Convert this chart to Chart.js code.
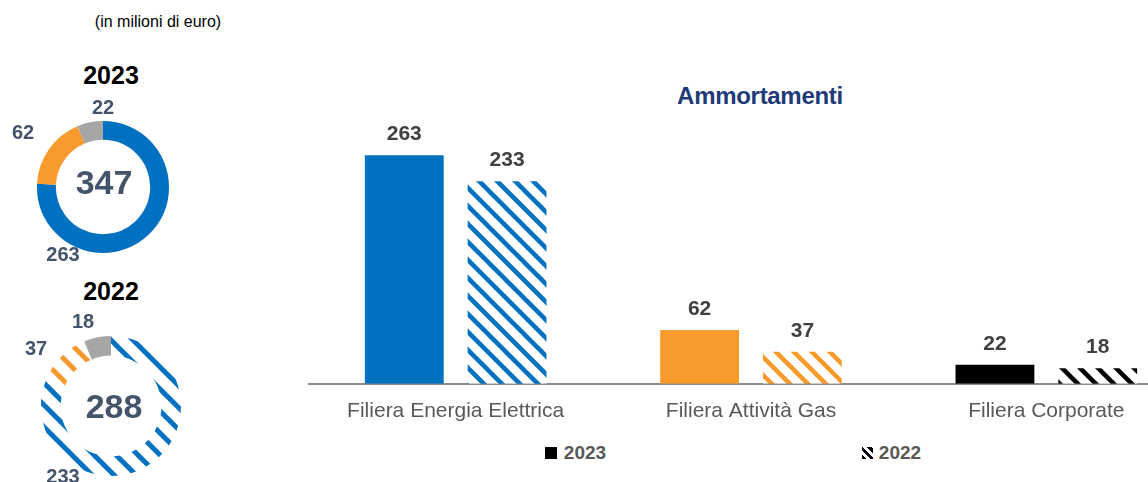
<!DOCTYPE html>
<html>
<head>
<meta charset="utf-8">
<script src="https://cdn.jsdelivr.net/npm/chart.js@4"></script>
<style>
  body { margin: 0; width: 1148px; height: 482px; overflow: hidden; position: relative; background: #fff; font-family: "Liberation Sans", Arial, sans-serif; }
  .abs { position: absolute; }
  .txt { position: absolute; transform: translate(-50%, -50%); white-space: nowrap; }
  .lbl { font-weight: bold; font-size: 20px; color: #44546a; }
  .year { font-weight: bold; font-size: 25px; color: #000; }
  .leg { font-weight: bold; font-size: 19px; color: #595959; }
</style>
</head>
<body>
<div class="txt" style="left:158px; top:22px; font-size:16px; color:#000;">(in milioni di euro)</div>
<div class="txt year" style="left:111px; top:75px;">2023</div>
<div class="txt year" style="left:111px; top:291px;">2022</div>
<div class="txt" style="left:760px; top:96px; font-size:24px; font-weight:bold; color:#1f3a78; letter-spacing:-0.3px;">Ammortamenti</div>

<canvas id="donut23" class="abs" style="left:33px; top:117px;" width="140" height="140"></canvas>
<canvas id="donut22" class="abs" style="left:36px; top:331px;" width="150" height="150"></canvas>
<div id="donutLabels"></div>

<div class="abs" style="left:308px; top:100px; width:886px; height:339px;">
  <canvas id="myChart"></canvas>
</div>

<div class="abs" style="left:545px; top:447px; width:12px; height:12px; background:#000;"></div>
<div class="txt leg" style="left:585px; top:453px;">2023</div>
<div class="abs" style="left:862px; top:447px; width:11px; height:12px; background:repeating-linear-gradient(45deg, #000 0 3px, #fff 3px 6px);"></div>
<div class="txt leg" style="left:900px; top:453px;">2022</div>

<script>
// dati (in milioni di euro)
var categorie = ['Filiera Energia Elettrica', 'Filiera Attività Gas', 'Filiera Corporate'];
var anni = ['2023', '2022'];
var valori2023 = [263, 62, 22];
var valori2022 = [233, 37, 18];

var blu = '#0070c0';
var arancio = '#f99a2c';
var grigio = '#a6a6a6';

function hatch(color, s, lw) {
    var c = document.createElement('canvas');
    c.width = s; c.height = s;
    var x = c.getContext('2d');
    x.fillStyle = '#fff';
    x.fillRect(0, 0, s, s);
    x.strokeStyle = color;
    x.lineWidth = lw;
    for (var k = -2; k <= 2; k++) {
        x.beginPath();
        x.moveTo(k * s - 3, -3);
        x.lineTo(k * s + s + 3, s + 3);
        x.stroke();
    }
    return x.createPattern(c, 'repeat');
}

// etichette sopra le barre
var barLabels = {
    id: 'barLabels',
    afterDatasetsDraw: function(chart) {
        var ctx = chart.ctx;
        ctx.save();
        ctx.font = 'bold 21px "Liberation Sans", Arial, sans-serif';
        ctx.fillStyle = '#404040';
        ctx.textAlign = 'center';
        ctx.textBaseline = 'alphabetic';
        chart.data.datasets.forEach(function(ds, i) {
            chart.getDatasetMeta(i).data.forEach(function(el, j) {
                ctx.fillText(ds.data[j], el.x, el.y - 15);
            });
        });
        ctx.restore();
    }
};

// totale al centro della ciambella
var centerText = {
    id: 'centerText',
    afterDraw: function(chart) {
        var ctx = chart.ctx;
        var tot = chart.data.datasets[0].data.reduce(function(a, b) { return a + b; }, 0);
        var a = chart.chartArea;
        var sh = chart.options.centerShift;
        ctx.save();
        ctx.font = 'bold 34px "Liberation Sans", Arial, sans-serif';
        ctx.fillStyle = '#44546a';
        ctx.textAlign = 'center';
        ctx.textBaseline = 'middle';
        ctx.fillText(tot, (a.left + a.right) / 2 + sh[0], (a.top + a.bottom) / 2 + sh[1]);
        ctx.restore();
    }
};

function donut(id, data, colors, radius, cutout, shift) {
    return new Chart(document.getElementById(id), {
        type: 'doughnut',
        data: {
            labels: categorie,
            datasets: [{
                data: data,
                backgroundColor: colors,
                borderWidth: 0,
                radius: radius,
                cutout: cutout
            }]
        },
        options: {
            responsive: false,
            animation: false,
            centerShift: shift,
            plugins: { legend: { display: false }, tooltip: { enabled: false } }
        },
        plugins: [centerText]
    });
}

donut('donut23', valori2023, [blu, arancio, grigio], 66, 50, [1, -2]);
donut('donut22', valori2022, [hatch(blu, 22, 5), hatch(arancio, 22, 5), grigio], 70, 54, [3, 3]);

// etichette delle ciambelle
var posLabels = [
    { v: valori2023, pts: [[63, 254], [23, 132], [103, 107]] },
    { v: valori2022, pts: [[63, 476], [36, 348], [83, 321]] }
];
var box = document.getElementById('donutLabels');
posLabels.forEach(function(p) {
    p.v.forEach(function(v, i) {
        var d = document.createElement('div');
        d.className = 'txt lbl';
        d.style.left = p.pts[i][0] + 'px';
        d.style.top = p.pts[i][1] + 'px';
        d.textContent = v;
        box.appendChild(d);
    });
});

const ctx = document.getElementById('myChart').getContext('2d');
const myChart = new Chart(ctx, {
    type: 'bar',
    data: {
        labels: categorie,
        datasets: [
            {
                label: anni[0],
                data: valori2023,
                backgroundColor: [blu, arancio, '#000'],
                categoryPercentage: 0.696,
                barPercentage: 0.767
            },
            {
                label: anni[1],
                data: valori2022,
                backgroundColor: [hatch(blu, 18, 4.5), hatch(arancio, 18, 4.5), hatch('#000', 18, 4.5)],
                categoryPercentage: 0.696,
                barPercentage: 0.767
            }
        ]
    },
    options: {
        responsive: true,
        maintainAspectRatio: false,
        animation: false,
        layout: { padding: 0 },
        plugins: {
            legend: { display: false },
            tooltip: { enabled: false }
        },
        scales: {
            x: {
                grid: { display: false, drawTicks: false },
                border: { display: true, color: '#8c8c8c', width: 2 },
                ticks: {
                    color: '#595959',
                    padding: 15,
                    font: { family: '"Liberation Sans", Arial, sans-serif', size: 21 }
                }
            },
            y: {
                display: false,
                min: 0,
                max: 326.5
            }
        }
    },
    plugins: [barLabels]
});
</script>
</body>
</html>
